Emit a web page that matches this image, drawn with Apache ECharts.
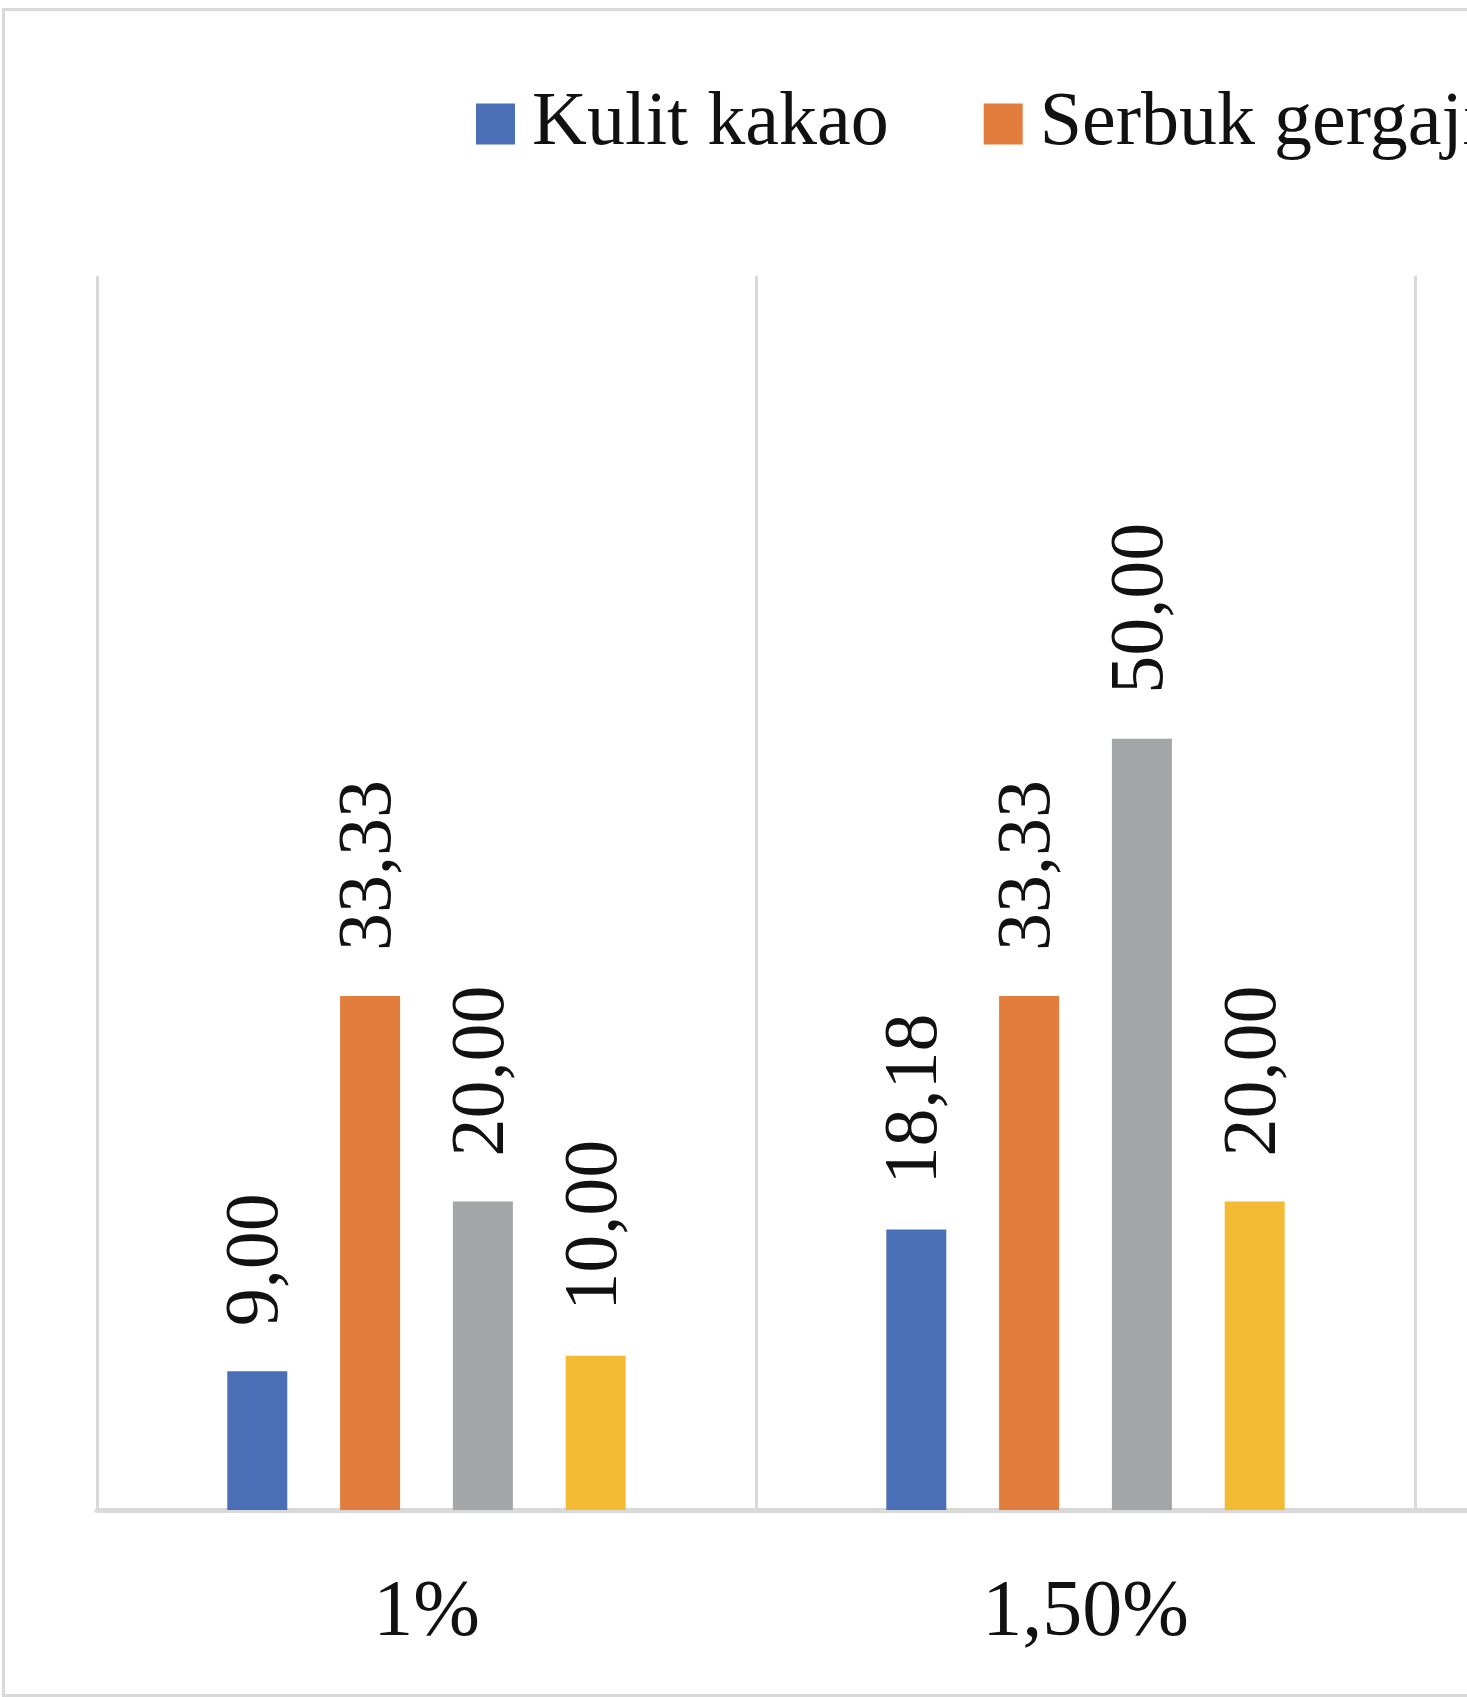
<!DOCTYPE html>
<html>
<head>
<meta charset="utf-8">
<script src="https://cdn.jsdelivr.net/npm/echarts@6/dist/echarts.min.js"></script>
<style>
  html, body { margin: 0; padding: 0; overflow: hidden; background: #fff; }
  #main { position: absolute; left: 0; top: 0; width: 3200px; height: 1697px; }
  #frame { position: absolute; left: 2px; top: 8px; width: 3200px; height: 1683px;
           border: 3px solid #d9d9d9; pointer-events: none; }
</style>
</head>
<body>
<div id="main"></div>
<div id="frame"></div>
<script>
// categories (third one is cut off in the picture)
const categories = ['1%', '1,50%', '2%'];
const seriesNames = ['Kulit kakao', 'Serbuk gergaji', 'Sekam padi', 'Tongkol jagung'];
const kulitKakao = [9.00, 18.18, null];
const serbukGergaji = [33.33, 33.33, null];
const greySeries = [20.00, 50.00, null];
const yellowSeries = [10.00, 20.00, null];
const colors = ['#4a6fb6', '#e27d3e', '#a3a5a7', '#f3bb33'];

const font = 'Liberation Serif';
let chart = echarts.init(document.getElementById('main'));

const makeSeries = (name, data, color) => ({
  name: name,
  type: 'bar',
  data: data,
  barWidth: 60,
  barGap: '88%',
  itemStyle: { color: color },
  label: {
    show: true,
    position: 'top',
    rotate: 90,
    align: 'left',
    verticalAlign: 'middle',
    distance: 45,
    fontFamily: font,
    fontSize: 76,
    color: '#111',
    formatter: (p) => p.value.toFixed(2).replace('.', ',')
  }
});

let option = {
  backgroundColor: '#fff',
  animation: false,
  legend: {
    left: 471,
    top: 81,
    width: 2700,
    itemWidth: 39,
    itemHeight: 41,
    itemGap: 95,
    icon: 'rect',
    textStyle: { fontFamily: font, fontSize: 76, color: '#111', padding: [0, 0, 0, 12] },
    data: seriesNames
  },
  grid: { left: 97, top: 276, width: 1977, bottom: 187 },
  xAxis: {
    type: 'category',
    data: categories,
    axisTick: { show: false },
    axisLine: { lineStyle: { color: '#d9d9d9', width: 5 } },
    splitLine: { show: true, lineStyle: { color: '#d9d9d9', width: 3 } },
    axisLabel: { fontFamily: font, fontSize: 80, color: '#111', margin: 64 }
  },
  yAxis: {
    type: 'value',
    min: 0,
    max: 80,
    show: false,
    splitLine: { show: false }
  },
  series: [
    makeSeries(seriesNames[0], kulitKakao, colors[0]),
    makeSeries(seriesNames[1], serbukGergaji, colors[1]),
    makeSeries(seriesNames[2], greySeries, colors[2]),
    makeSeries(seriesNames[3], yellowSeries, colors[3])
  ]
};

option && chart.setOption(option);
</script>
</body>
</html>
